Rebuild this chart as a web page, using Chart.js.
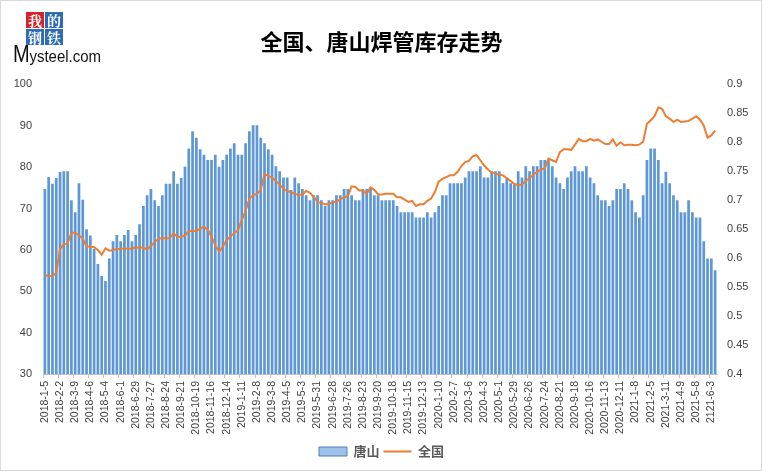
<!DOCTYPE html>
<html>
<head>
<meta charset="utf-8">
<script src="https://cdn.jsdelivr.net/npm/chart.js@4/dist/chart.umd.min.js"></script>
<style>
  body { margin: 0; background: #fff; }
  #wrap { position: relative; width: 763px; height: 472px; }
  .logo { position: absolute; left: 0; top: 0; width: 110px; height: 70px; }
  .sq { position: absolute; width: 18px; height: 16px; color: #fff; font-family: "Noto Serif CJK SC", "Noto Sans CJK SC";
        font-size: 14px; font-weight: bold; line-height: 16px; text-align: center; }
  .red { background: #d3222a; }
  .blue { background: #2d6cb5; }
  .ms { position: absolute; left: 13px; top: 45px; font-family: "Liberation Sans"; font-size: 15px; color: #111;
        white-space: nowrap; transform: scaleY(1.15); transform-origin: 0 100%; }
  .ms b { font-size: 20px; font-weight: normal; letter-spacing: -0.3px; }
</style>
</head>
<body>
<div id="wrap">
  <canvas id="inventory-chart" width="763" height="472"></canvas>
  <div class="logo">
    <div class="sq red" style="left:26px;top:12px">我</div>
    <div class="sq blue" style="left:45px;top:12px">的</div>
    <div class="sq blue" style="left:26px;top:29px">钢</div>
    <div class="sq blue" style="left:45px;top:29px">铁</div>
    <div class="ms"><b>M</b>ysteel.com</div>
  </div>
</div>
<script>
// x轴显示的日期 (每4周一个)
const tickLabels = [
  "2018-1-5", "2018-2-2", "2018-3-9", "2018-4-6", "2018-5-4", "2018-6-1", "2018-6-29", "2018-7-27",
  "2018-8-24", "2018-9-21", "2018-10-19", "2018-11-16", "2018-12-14", "2019-1-11", "2019-2-8", "2019-3-8",
  "2019-4-5", "2019-5-3", "2019-5-31", "2019-6-28", "2019-7-26", "2019-8-23", "2019-9-20", "2019-10-18",
  "2019-11-15", "2019-12-13", "2020-1-10", "2020-2-7", "2020-3-6", "2020-4-3", "2020-5-1", "2020-5-29",
  "2020-6-26", "2020-7-24", "2020-8-21", "2020-9-18", "2020-10-16", "2020-11-13", "2020-12-11", "2021-1-8",
  "2021-2-5", "2021-3-11", "2021-4-9", "2021-5-8", "2121-6-3"
];

// 唐山库存 (左轴)
const tangshan = [
  74.7, 77.6, 76.0, 77.4, 78.8, 79.0, 79.0, 72.0, 69.1, 76.1, 72.1, 65.0, 63.5, 60.2, 56.6, 53.7,
  52.5, 57.9, 62.1, 63.6, 62.1, 63.6, 64.8, 62.1, 63.6, 66.2, 70.6, 73.2, 74.7, 72.0, 70.6, 73.2,
  76.0, 76.0, 79.0, 76.0, 77.4, 80.1, 84.5, 88.7, 87.1, 84.3, 83.0, 81.7, 81.7, 83.0, 80.1, 81.7,
  83.0, 84.5, 85.8, 83.0, 83.0, 85.8, 88.7, 90.1, 90.1, 87.1, 85.8, 84.3, 83.0, 80.2, 79.0, 77.5,
  77.5, 74.5, 77.5, 76.1, 74.7, 73.2, 72.0, 73.2, 73.2, 72.0, 70.6, 72.0, 72.0, 73.2, 73.2, 74.7,
  74.7, 73.2, 72.0, 72.0, 74.7, 74.7, 74.7, 73.2, 73.2, 72.0, 72.0, 72.0, 72.0, 70.6, 69.1, 69.1,
  69.1, 69.1, 67.8, 67.8, 67.8, 69.1, 67.8, 69.1, 70.6, 73.2, 73.2, 76.1, 76.1, 76.1, 76.1, 77.5,
  79.0, 79.0, 79.0, 80.2, 77.5, 77.5, 79.0, 79.0, 79.0, 76.1, 77.5, 76.1, 76.1, 79.0, 77.5, 80.2,
  79.0, 80.2, 80.2, 81.7, 81.7, 81.7, 80.2, 77.5, 76.1, 74.7, 77.5, 79.0, 80.2, 79.0, 79.0, 80.2,
  77.5, 76.1, 73.2, 72.0, 72.0, 70.6, 72.0, 74.7, 74.7, 76.1, 74.7, 72.0, 69.1, 67.8, 73.2, 81.7,
  84.5, 84.5, 81.7, 76.1, 78.9, 76.1, 73.2, 72.0, 69.1, 69.1, 72.0, 69.1, 67.8, 67.8, 62.1, 57.9,
  57.9, 55.1
];

// 全国库存 (右轴)
const quanguo = [
  0.571, 0.569, 0.569, 0.575, 0.616, 0.624, 0.625, 0.644, 0.644, 0.639, 0.634, 0.620, 0.620, 0.619, 0.614, 0.606,
  0.617, 0.613, 0.614, 0.616, 0.616, 0.617, 0.616, 0.617, 0.618, 0.619, 0.618, 0.615, 0.621, 0.628, 0.633, 0.635,
  0.634, 0.635, 0.643, 0.637, 0.637, 0.639, 0.647, 0.647, 0.647, 0.651, 0.654, 0.649, 0.637, 0.622, 0.611, 0.620,
  0.631, 0.638, 0.643, 0.648, 0.666, 0.681, 0.703, 0.709, 0.711, 0.718, 0.745, 0.742, 0.739, 0.733, 0.727, 0.720,
  0.716, 0.714, 0.711, 0.709, 0.710, 0.716, 0.713, 0.706, 0.697, 0.695, 0.693, 0.693, 0.697, 0.697, 0.702, 0.705,
  0.707, 0.724, 0.723, 0.717, 0.717, 0.711, 0.722, 0.718, 0.710, 0.710, 0.711, 0.711, 0.711, 0.705, 0.705, 0.701,
  0.697, 0.699, 0.690, 0.693, 0.693, 0.699, 0.703, 0.714, 0.732, 0.737, 0.740, 0.743, 0.743, 0.749, 0.759, 0.766,
  0.768, 0.776, 0.778, 0.769, 0.760, 0.753, 0.748, 0.746, 0.744, 0.743, 0.738, 0.733, 0.728, 0.726, 0.727, 0.734,
  0.738, 0.744, 0.749, 0.753, 0.755, 0.772, 0.769, 0.766, 0.783, 0.788, 0.788, 0.787, 0.796, 0.806, 0.802, 0.802,
  0.806, 0.803, 0.805, 0.801, 0.797, 0.797, 0.805, 0.794, 0.800, 0.795, 0.796, 0.796, 0.795, 0.796, 0.801, 0.832,
  0.838, 0.845, 0.860, 0.858, 0.845, 0.841, 0.835, 0.839, 0.835, 0.836, 0.837, 0.841, 0.845, 0.839, 0.829, 0.808,
  0.812, 0.820
];

// 每周一个类别, 只有每第4周带日期
const weeks = tangshan.map((v, i) => (i % 4 === 0 && tickLabels[i / 4]) ? tickLabels[i / 4] : "");

const chartBorder = {
  id: "chartBorder",
  beforeDraw(chart) {
    const ctx = chart.ctx;
    ctx.save();
    ctx.fillStyle = "#fff";
    ctx.fillRect(0, 0, chart.width, chart.height);
    ctx.strokeStyle = "#d9d9d9";
    ctx.lineWidth = 1;
    ctx.strokeRect(0.5, 0.5, chart.width - 2, chart.height - 2);
    ctx.restore();
  }
};

const tickFont = { family: "Liberation Sans", size: 10.5 };

new Chart(document.getElementById("inventory-chart"), {
  type: "bar",
  data: {
    labels: weeks,
    datasets: [
      {
        label: "唐山",
        data: tangshan,
        backgroundColor: "#5e97d6",
        borderWidth: 0,
        barPercentage: 0.72,
        categoryPercentage: 1.0,
        pointStyle: "rect",
        yAxisID: "y",
        order: 1,
      },
      {
        type: "line",
        label: "全国",
        data: quanguo,
        borderColor: "#ed7d31",
        backgroundColor: "#ed7d31",
        borderWidth: 2,
        pointRadius: 0,
        tension: 0,
        pointStyle: "line",
        yAxisID: "y1",
        order: 0,
      },
    ],
  },
  options: {
    responsive: false,
    animation: false,
    layout: { padding: { top: 0, bottom: 4, left: 0, right: 0 } },
    plugins: {
      title: {
        display: true,
        text: "全国、唐山焊管库存走势",
        color: "#000",
        font: { family: "Noto Sans CJK SC", size: 22, weight: "bold" },
        padding: { top: 28, bottom: 30 },
      },
      legend: {
        position: "bottom",
        labels: {
          usePointStyle: true,
          pointStyleWidth: 28,
          boxHeight: 9,
          color: "#595959",
          font: { family: "Noto Sans CJK SC", size: 13, weight: "bold" },
          padding: 4,
          sort: (a, b) => a.datasetIndex - b.datasetIndex,
          generateLabels: (chart) => {
            const items = Chart.defaults.plugins.legend.labels.generateLabels(chart);
            items.forEach((item) => {
              if (item.datasetIndex === 0) {
                item.fillStyle = "#9fc0e8";
                item.strokeStyle = "#4f81bd";
                item.lineWidth = 1;
              }
            });
            return items;
          },
        },
      },
      tooltip: { enabled: false },
    },
    scales: {
      x: {
        grid: {
          display: true,
          drawOnChartArea: false,
          tickLength: 4,
          color: (c) => (c.index % 4 === 0 ? "#bfbfbf" : "rgba(0,0,0,0)"),
        },
        border: { display: true, color: "#bfbfbf" },
        ticks: {
          autoSkip: false,
          minRotation: 90,
          maxRotation: 90,
          padding: 3,
          color: "#404040",
          font: tickFont,
        },
        afterFit: (scale) => { scale.height = 67; },
      },
      y: {
        position: "left",
        min: 30,
        max: 100,
        grid: { display: false },
        border: { display: false },
        ticks: { stepSize: 10, padding: 3, color: "#404040", font: { family: "Liberation Sans", size: 11 } },
        afterFit: (scale) => { scale.width = 43; },
      },
      y1: {
        position: "right",
        min: 0.4,
        max: 0.9,
        grid: { display: false },
        border: { display: false },
        ticks: {
          stepSize: 0.05,
          padding: 2,
          color: "#404040",
          font: { family: "Liberation Sans", size: 11 },
          callback: (v) => String(parseFloat(v.toFixed(2))),
        },
        afterFit: (scale) => { scale.width = 46; },
      },
    },
  },
  plugins: [chartBorder],
});
</script>
</body>
</html>
